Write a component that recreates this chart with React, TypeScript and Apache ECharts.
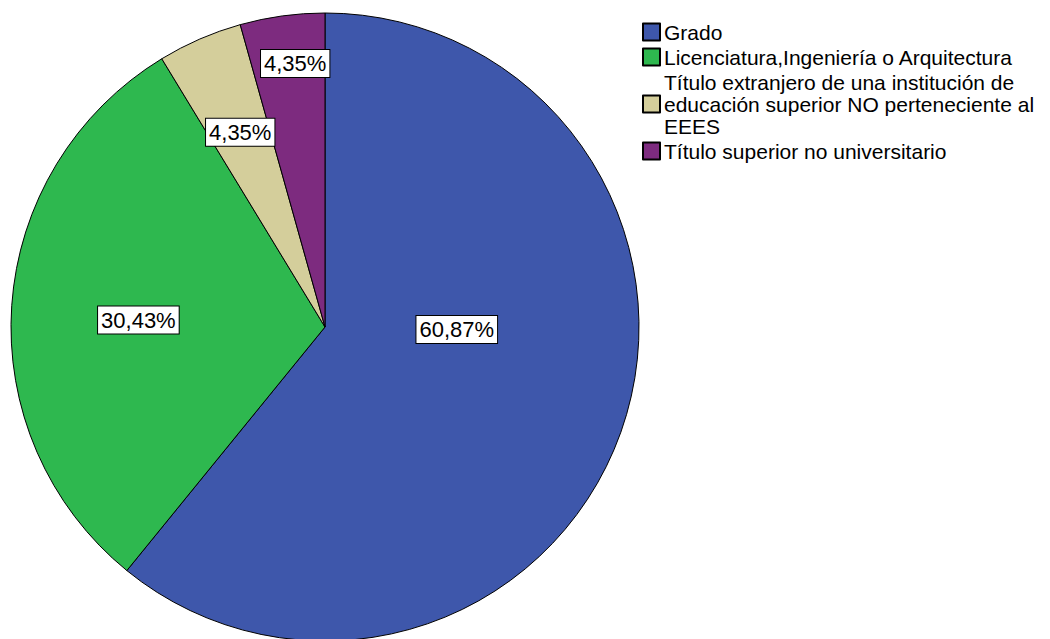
import React, { useEffect, useRef } from "react";
import * as echarts from "echarts";

const categories = [
  "Grado",
  "Licenciatura,Ingeniería o Arquitectura",
  "Título extranjero de una institución de\neducación superior NO perteneciente al\nEEES",
  "Título superior no universitario",
];
const values = [60.87, 30.43, 4.35, 4.35];
const labelTexts = ["60,87%", "30,43%", "4,35%", "4,35%"];
const colors = ["#3E57AB", "#2EB84F", "#D4CE9B", "#7D2B7F"];
const labelOffsets: [number, number][] = [
  [-19, -51],
  [-27, 4],
  [-21, -48],
  [-8, -105],
];

export default function App() {
  const ref = useRef<HTMLDivElement>(null);
  useEffect(() => {
    if (!ref.current) return;
    const chart = echarts.init(ref.current, undefined, { renderer: "svg" });
    const font = "'Liberation Sans', Arial, sans-serif";
    chart.setOption({
      animation: false,
      backgroundColor: "#ffffff",
      legend: {
        orient: "vertical",
        left: 637,
        top: 16,
        itemWidth: 17,
        itemHeight: 17,
        itemGap: 3,
        icon: "rect",
        selectedMode: false,
        textStyle: {
          fontFamily: font,
          fontSize: 21,
          lineHeight: 22,
          color: "#000",
          padding: [0, 0, 0, -1],
        },
        data: categories,
      },
      series: [
        {
          type: "pie",
          center: [325, 327],
          radius: 314,
          startAngle: 90,
          clockwise: true,
          silent: true,
          itemStyle: { borderColor: "#000", borderWidth: 1 },
          labelLine: { show: false },
          data: categories.map((name, i) => ({
            name,
            value: values[i],
            itemStyle: { color: colors[i] },
            label: {
              show: true,
              position: "inside",
              formatter: labelTexts[i],
              offset: labelOffsets[i],
              fontFamily: font,
              fontSize: 22,
              color: "#000",
              backgroundColor: "#fff",
              borderColor: "#000",
              borderWidth: 1,
              padding: [3, 3, 2, 3],
            },
          })),
        },
      ],
    });
    return () => chart.dispose();
  }, []);
  return (
    <div
      ref={ref}
      style={{ position: "fixed", left: 0, top: 0, width: 1050, height: 639 }}
    />
  );
}
